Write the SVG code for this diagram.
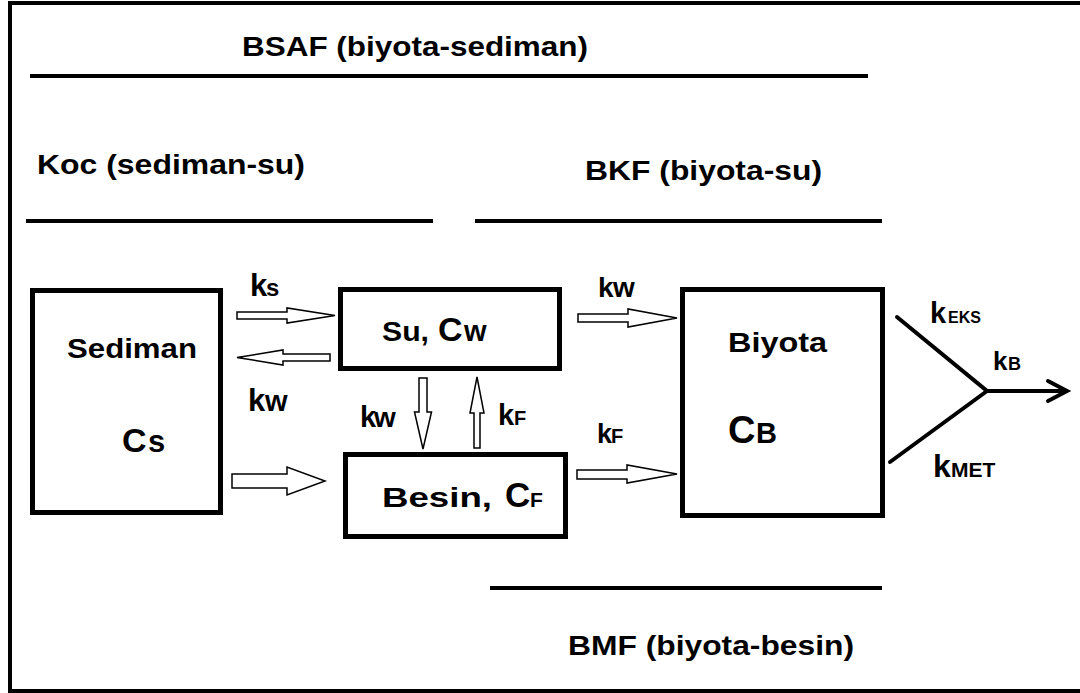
<svg xmlns="http://www.w3.org/2000/svg" width="1080" height="693" viewBox="0 0 1080 693">
<style>
text{font-family:"Liberation Sans",Arial,sans-serif;font-weight:bold;fill:#000}
.h{font-size:28px}
.box{fill:#fff;stroke:#000;stroke-width:5}
.rule{stroke:#000;stroke-width:4;fill:none}
.blk{fill:#fff;stroke:#000;stroke-width:1.5;stroke-linejoin:miter}
.thick{stroke:#000;stroke-width:4;fill:none;stroke-linecap:round}
</style>
<rect x="0" y="0" width="1080" height="693" fill="#fff"/>
<rect x="10" y="3" width="1080" height="688" fill="none" stroke="#000" stroke-width="4"/>

<g id="headings">
  <text class="h" x="242" y="56" textLength="346" lengthAdjust="spacingAndGlyphs">BSAF (biyota-sediman)</text>
  <line class="rule" x1="30" y1="76" x2="868" y2="76"/>
  <text class="h" x="37" y="174" textLength="268" lengthAdjust="spacingAndGlyphs">Koc (sediman-su)</text>
  <line class="rule" x1="26" y1="221" x2="433" y2="221"/>
  <text class="h" x="585" y="180" textLength="237" lengthAdjust="spacingAndGlyphs">BKF (biyota-su)</text>
  <line class="rule" x1="475" y1="221" x2="882" y2="221"/>
  <line class="rule" x1="490" y1="588" x2="882" y2="588"/>
  <text class="h" x="568" y="655" textLength="286" lengthAdjust="spacingAndGlyphs">BMF (biyota-besin)</text>
</g>

<g id="sediman">
  <rect class="box" x="32.5" y="290.5" width="188" height="222"/>
  <text x="67" y="358" font-size="28" textLength="130" lengthAdjust="spacingAndGlyphs">Sediman</text>
  <text x="122" y="452" font-size="34">C<tspan x="148" font-size="31">s</tspan></text>
</g>

<g id="su">
  <rect class="box" x="340.5" y="289.5" width="219" height="79"/>
  <text x="382" y="341" font-size="28" textLength="47" lengthAdjust="spacingAndGlyphs">Su,</text>
  <text x="438" y="341" font-size="34">C<tspan x="464" font-size="29">w</tspan></text>
</g>

<g id="besin">
  <rect class="box" x="345.5" y="454.5" width="220" height="82"/>
  <text x="382" y="507" font-size="28" textLength="110" lengthAdjust="spacingAndGlyphs">Besin,</text>
  <text x="505" y="507" font-size="35">C<tspan x="530" font-size="21">F</tspan></text>
</g>

<g id="biyota">
  <rect class="box" x="682.5" y="289.5" width="200" height="226"/>
  <text x="728" y="352" font-size="28" textLength="99" lengthAdjust="spacingAndGlyphs">Biyota</text>
  <text x="728" y="443" font-size="38">C<tspan x="756" font-size="29">B</tspan></text>
</g>

<g id="connectors">
  <polygon class="blk" points="237,312 287,312 287,308 335,315.5 287,323 287,319 237,319"/>
  <polygon class="blk" points="330,354 283,354 283,350 237,357.5 283,365 283,361 330,361"/>
  <polygon class="blk" points="232,474 287,474 287,467 325,481 287,495 287,488 232,488"/>
  <polygon class="blk" points="419,378 427,378 427,412 431.5,412 423,449 414.5,412 419,412"/>
  <polygon class="blk" points="474,448 480,448 480,413 484,413 477,377 470,413 474,413"/>
  <polygon class="blk" points="578,314 628,314 628,309 677,318 628,327 628,322 578,322"/>
  <polygon class="blk" points="577,470 627,470 627,465 677,474 627,483 627,479 577,479"/>
  <polyline class="thick" points="897,317 987,391 890,462"/>
  <line class="thick" x1="987" y1="391" x2="1066" y2="391"/>
  <polyline class="thick" points="1048,381 1067,391 1048,401"/>
</g>

<g id="labels">
  <text x="250" y="296" font-size="31">k<tspan x="266" font-size="24">s</tspan></text>
  <text x="248" y="411" font-size="31">k<tspan x="265" font-size="29">w</tspan></text>
  <text x="360" y="427" font-size="29">k<tspan x="374" font-size="28">w</tspan></text>
  <text x="498" y="425" font-size="29">k<tspan x="514" font-size="20">F</tspan></text>
  <text x="598" y="297" font-size="28">k<tspan x="613" font-size="28">w</tspan></text>
  <text x="597" y="443" font-size="27">k<tspan x="611" font-size="20">F</tspan></text>
  <text x="930" y="323" font-size="29">k<tspan x="948" font-size="16">EKS</tspan></text>
  <text x="993" y="370" font-size="26">k<tspan x="1008" font-size="18">B</tspan></text>
  <text x="933" y="477" font-size="32">k<tspan x="951" font-size="21">MET</tspan></text>
</g>
</svg>
